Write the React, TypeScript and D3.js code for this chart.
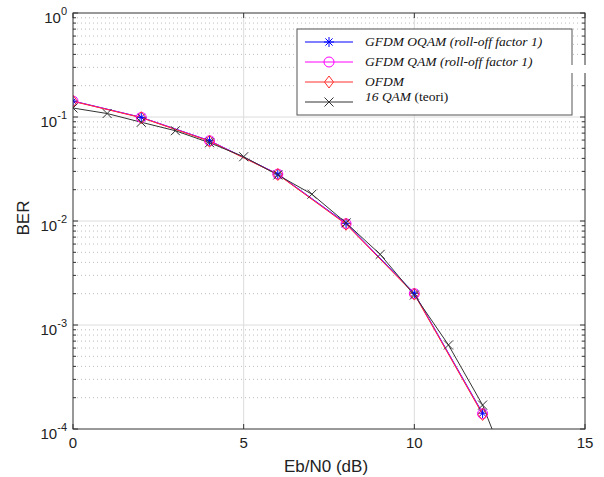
import React from "react";
import * as d3 from "d3";

const W = 604;
const H = 477;

const xTicks = [0, 5, 10, 15];
const yDecades = [0, -1, -2, -3, -4];

const xSim = [0, 2, 4, 6, 8, 10, 12];
const berOQAM = [0.1425, 0.0993, 0.0592, 0.0283, 0.0095, 0.00202, 0.000142];
const berQAM = [0.1420, 0.0990, 0.0590, 0.0282, 0.0094, 0.00200, 0.000140];
const berOFDM = [0.1415, 0.0985, 0.0585, 0.0280, 0.0093, 0.00198, 0.000138];

const xTheory = [0, 1, 2, 3, 4, 5, 6, 7, 8, 9, 10, 11, 12, 13];
const berTheory = [0.122, 0.108, 0.089, 0.0738, 0.0566, 0.0415, 0.0277, 0.0181, 0.0096, 0.00478, 0.00194, 0.000643, 0.00017, 0.000025];

const legendLabels = [
  { main: "GFDM OQAM (roll-off factor 1)", extra: "" },
  { main: "GFDM QAM (roll-off factor 1)", extra: "" },
  { main: "OFDM", extra: "" },
  { main: "16 QAM", extra: " (teori)" },
];

const M = { left: 73, right: 585, top: 13, bottom: 429 };

function Marker({ kind, x, y, color }: { kind: string; x: number; y: number; color: string }) {
  const s = 5;
  if (kind === "star") {
    return (
      <g stroke={color} strokeWidth={1}>
        <line x1={x - s} y1={y} x2={x + s} y2={y} />
        <line x1={x} y1={y - s} x2={x} y2={y + s} />
        <line x1={x - 3.6} y1={y - 3.6} x2={x + 3.6} y2={y + 3.6} />
        <line x1={x - 3.6} y1={y + 3.6} x2={x + 3.6} y2={y - 3.6} />
      </g>
    );
  }
  if (kind === "circle") {
    return <circle cx={x} cy={y} r={5} fill="none" stroke={color} strokeWidth={1} />;
  }
  if (kind === "diamond") {
    return (
      <path
        d={`M${x},${y - 6}L${x + 4.5},${y}L${x},${y + 6}L${x - 4.5},${y}Z`}
        fill="none"
        stroke={color}
        strokeWidth={1}
      />
    );
  }
  return (
    <g stroke={color} strokeWidth={1}>
      <line x1={x - 4.5} y1={y - 4.5} x2={x + 4.5} y2={y + 4.5} />
      <line x1={x - 4.5} y1={y + 4.5} x2={x + 4.5} y2={y - 4.5} />
    </g>
  );
}

export default function App() {
  const x = d3.scaleLinear().domain([0, 15]).range([M.left, M.right]);
  const y = d3.scaleLog().domain([1e-4, 1]).range([M.bottom, M.top]);

  const minor: number[] = [];
  for (let k = -4; k < 0; k++) {
    for (let m = 2; m <= 9; m++) minor.push(m * Math.pow(10, k));
  }

  const line = d3
    .line<[number, number]>()
    .x((d) => x(d[0]))
    .y((d) => y(d[1]));

  const series = [
    { xs: xSim, ys: berOQAM, color: "#0000ff", kind: "star" },
    { xs: xSim, ys: berQAM, color: "#ff00ff", kind: "circle" },
    { xs: xSim, ys: berOFDM, color: "#ff3030", kind: "diamond" },
    { xs: xTheory, ys: berTheory, color: "#333333", kind: "x" },
  ];

  const axisFont = "Liberation Sans, Arial, sans-serif";
  const legendFont = "Liberation Serif, Times New Roman, serif";
  const lg = { x: 297, y: 29, w: 275, h: 86 };
  const rowY = [42, 62, 82, 102];

  return (
    <svg
      width={W}
      height={H}
      style={{ position: "absolute", left: 0, top: 0, background: "#fff" }}
    >
      <defs>
        <clipPath id="plotclip">
          <rect x={M.left} y={M.top} width={M.right - M.left} height={M.bottom - M.top} />
        </clipPath>
      </defs>
      <rect width={W} height={H} fill="#fff" />
      {/* minor grid */}
      {minor.map((v) => (
        <line
          key={"mg" + v}
          x1={M.left}
          x2={M.right}
          y1={y(v)}
          y2={y(v)}
          stroke="#bdbdbd"
          strokeWidth={1}
          strokeDasharray="1,3"
        />
      ))}
      {/* major grid */}
      {yDecades.slice(1, 4).map((d) => (
        <line
          key={"yg" + d}
          x1={M.left}
          x2={M.right}
          y1={y(Math.pow(10, d))}
          y2={y(Math.pow(10, d))}
          stroke="#dcdcdc"
          strokeWidth={1}
        />
      ))}
      {xTicks.slice(1, 3).map((t) => (
        <line key={"xg" + t} x1={x(t)} x2={x(t)} y1={M.top} y2={M.bottom} stroke="#dcdcdc" strokeWidth={1} />
      ))}
      {/* ticks */}
      {xTicks.map((t) => (
        <g key={"xt" + t} stroke="#333">
          <line x1={x(t)} x2={x(t)} y1={M.bottom} y2={M.bottom - 5} />
          <line x1={x(t)} x2={x(t)} y1={M.top} y2={M.top + 5} />
        </g>
      ))}
      {yDecades.map((d) => (
        <g key={"yt" + d} stroke="#333">
          <line x1={M.left} x2={M.left + 5} y1={y(Math.pow(10, d))} y2={y(Math.pow(10, d))} />
          <line x1={M.right} x2={M.right - 5} y1={y(Math.pow(10, d))} y2={y(Math.pow(10, d))} />
        </g>
      ))}
      {minor.map((v) => (
        <g key={"mt" + v} stroke="#333">
          <line x1={M.left} x2={M.left + 3} y1={y(v)} y2={y(v)} />
          <line x1={M.right} x2={M.right - 3} y1={y(v)} y2={y(v)} />
        </g>
      ))}
      {/* data */}
      <g clipPath="url(#plotclip)">
        {series.map((s, i) => (
          <path
            key={"l" + i}
            d={line(s.xs.map((v, j) => [v, s.ys[j]] as [number, number])) || ""}
            fill="none"
            stroke={s.color}
            strokeWidth={1}
          />
        ))}
        {series.map((s, i) =>
          s.xs.map((v, j) => (
            <Marker key={"m" + i + "-" + j} kind={s.kind} x={x(v)} y={y(s.ys[j])} color={s.color} />
          ))
        )}
      </g>
      {/* frame */}
      <rect
        x={M.left}
        y={M.top}
        width={M.right - M.left}
        height={M.bottom - M.top}
        fill="none"
        stroke="#333"
        strokeWidth={1}
      />
      {/* tick labels */}
      {xTicks.map((t) => (
        <text
          key={"xl" + t}
          x={x(t)}
          y={448}
          textAnchor="middle"
          fontFamily={axisFont}
          fontSize={15}
          fill="#222"
        >
          {t}
        </text>
      ))}
      {yDecades.map((d) => (
        <text
          key={"yl" + d}
          x={M.left - 6}
          y={y(Math.pow(10, d)) + 9.5}
          textAnchor="end"
          fontFamily={axisFont}
          fontSize={15}
          fill="#222"
        >
          10
          <tspan fontSize={11} dy={-8}>
            {d}
          </tspan>
        </text>
      ))}
      <text
        x={(M.left + M.right) / 2 - 3}
        y={471.5}
        textAnchor="middle"
        fontFamily={axisFont}
        fontSize={17}
        fill="#222"
      >
        Eb/N0 (dB)
      </text>
      <text
        transform={`translate(29,218) rotate(-90)`}
        textAnchor="middle"
        fontFamily={axisFont}
        fontSize={17}
        fill="#222"
      >
        BER
      </text>
      {/* legend */}
      <rect x={lg.x} y={lg.y} width={lg.w} height={lg.h} fill="#fff" stroke="#555" strokeWidth={1} />
      <rect x={lg.x + lg.w - 2} y={65} width={18} height={8} fill="#fff" />
      {series.map((s, i) => (
        <g key={"lg" + i}>
          <line x1={305} x2={353} y1={rowY[i]} y2={rowY[i]} stroke={s.color} strokeWidth={1} />
          <Marker kind={s.kind} x={329} y={rowY[i]} color={s.color} />
          <text x={365} y={rowY[i] + (i === 3 ? -1 : 4)} fontFamily={legendFont} fontSize={13.5} fill="#111">
            <tspan fontStyle="italic">{legendLabels[i].main}</tspan>
            {legendLabels[i].extra && <tspan>{legendLabels[i].extra}</tspan>}
          </text>
        </g>
      ))}
    </svg>
  );
}
